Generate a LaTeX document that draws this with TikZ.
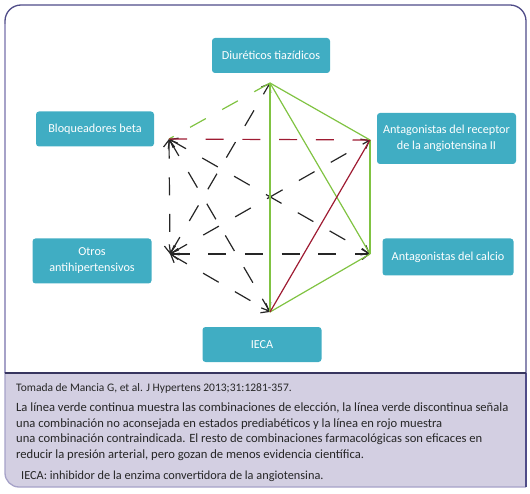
\documentclass[tikz,border=0pt]{standalone}
\usepackage{fontspec}
\setmainfont{Carlito}
\usetikzlibrary{arrows.meta}
\definecolor{boxteal}{HTML}{40ADC3}
\definecolor{okgreen}{HTML}{80C342}
\definecolor{badred}{HTML}{9E1B32}
\definecolor{framedark}{HTML}{4F4C88}
\definecolor{framelight}{HTML}{A6A2C8}
\definecolor{notefill}{HTML}{D3CFE2}
\tikzset{
	drug/.style={fill=boxteal, rounded corners=3pt, text=white, align=center, inner sep=0pt, minimum height=35pt, font=\fontsize{12.2}{16}\selectfont},
	note/.style={anchor=north west, align=left, inner sep=0pt, text=black!85, font=\fontsize{12.3}{15.6}\selectfont},
	edge/.style={line width=1.2pt}
}
\tikzset{
	good/.style={edge, draw=okgreen},
	maybe/.style={edge, draw=okgreen, dash pattern=on 18pt off 18.7pt},
	bad/.style={edge, draw=badred},
	baddash/.style={edge, draw=badred, dash pattern=on 18pt off 18.7pt},
	other/.style={edge, draw=black!85, dash pattern=on 18pt off 18.7pt, <->, >={Straight Barb[length=7pt, width=11pt]}}
}
\begin{document}
\begin{tikzpicture}[x=1pt, y=-1pt]
\useasboundingbox (0, 0) rectangle (530, 494);
\fill[notefill] (5, 373) -- (526, 373) -- (526, 487) [rounded corners=14pt] -- (5, 487) [sharp corners] -- cycle;
\draw[framelight, line width=1.3pt, rounded corners=14pt] (5, 373) -- (5, 487) -- (526, 487);
\draw[framedark, line width=1.3pt] (526, 373) -- (526, 487);
\draw[framedark, line width=1.3pt, rounded corners=16pt] (5, 373) -- (5, 5) -- (526, 5) -- (526, 373);
\draw[framelight, line width=1.3pt] (5, 372) -- (5, 24);
\draw[framedark!70!black, line width=1.3pt] (5, 373) -- (526, 373);

\node[drug, minimum width=118pt] (diu) at (271, 55.5) {Diuréticos tiazídicos};
\node[drug, minimum width=118pt] (beta) at (95, 129) {Bloqueadores beta};
\node[drug, minimum width=139pt, minimum height=51pt] (ara) at (446.5, 138.5) {Antagonistas del receptor\\de la angiotensina II};
\node[drug, minimum width=131pt, minimum height=37pt] (calc) at (448, 257) {Antagonistas del calcio};
\node[drug, minimum width=119pt, minimum height=45pt] (otros) at (92, 261) {Otros\\antihipertensivos};
\node[drug, minimum width=119pt] (ieca) at (262, 344.5) {IECA};

\coordinate (diuV) at (270, 83);
\coordinate (betaV) at (169, 139);
\coordinate (araV) at (370, 140);
\coordinate (otrosV) at (170, 254);
\coordinate (calcV) at (370, 254);
\coordinate (iecaV) at (270, 312);

\draw[other] (betaV) to (otrosV);
\draw[other] (betaV) to (calcV);
\draw[other] (betaV) to (iecaV);
\draw[other] (otrosV) to (diuV);
\draw[other] (otrosV) to (araV);
\draw[other] (otrosV) to (calcV);
\draw[other] (otrosV) to (iecaV);
\draw[maybe] (diuV) to (betaV);
\draw[baddash] (betaV) to (araV);
\draw[good] (diuV) to (araV);
\draw[good] (diuV) to (calcV);
\draw[good] (diuV) to (iecaV);
\draw[good] (araV) to (calcV);
\draw[good] (calcV) to (iecaV);
\draw[bad] (araV) to (iecaV);

\node[note, font=\fontsize{11.5}{15.6}\selectfont] (src) at (16, 383) {Tomada de Mancia G, et al. J Hypertens 2013;31:1281-357.};
\node[note, font=\fontsize{12.6}{15.6}\selectfont] (expl) at (16, 402.5) {La línea verde continua muestra las combinaciones de elección, la línea verde discontinua señala\\una combinación no aconsejada en estados prediabéticos y la línea en rojo muestra\\una combinación contraindicada. El resto de combinaciones farmacológicas son eficaces en\\reducir la presión arterial, pero gozan de menos evidencia científica.};
\node[note] (abbr) at (21, 470.5) {IECA: inhibidor de la enzima convertidora de la angiotensina.};
\end{tikzpicture}
\end{document}
